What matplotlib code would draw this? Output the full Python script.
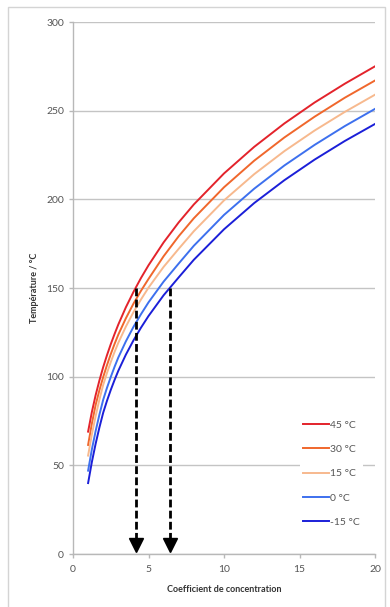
import matplotlib
matplotlib.use("Agg")
import matplotlib.pyplot as plt
from matplotlib.patches import Rectangle

plt.rcParams.update({"font.family": ["Lato", "DejaVu Sans"], "font.size": 7})

# values
coef = [1, 1.25, 1.5, 1.75, 2, 2.25, 2.5, 2.75, 3, 3.5, 4, 4.5, 5, 6, 7, 8,
        10, 12, 14, 16, 18, 20]
temp_45 = [69, 80.1, 89.6, 97.9, 105.4, 112.1, 118.3, 124.0, 129.4, 139.1, 147.7,
           155.6, 162.8, 175.7, 187.0, 197.1, 214.6, 229.6, 242.8, 254.6, 265.2, 275]
temp_30 = [61.5, 73.6, 84.1, 92.4, 99.8, 106.5, 112.7, 118.4, 123.7, 132.9, 141.1,
           148.4, 155.1, 167.9, 179.2, 189.3, 206.8, 221.8, 234.9, 246.6, 257.3, 267]
temp_15 = [55.5, 67.5, 77.8, 87.1, 95.4, 102.1, 108.2, 113.9, 119.1, 128.2, 136.3,
           143.5, 150.2, 161.9, 172.1, 182.0, 199.4, 214.2, 227.2, 238.8, 249.3, 259]
temp_0 = [47, 59, 69.4, 78.6, 87.0, 93.7, 99.8, 105.5, 110.8, 119.9, 128.0,
          135.2, 141.9, 153.6, 163.8, 173.8, 191.2, 206.0, 219.1, 230.7, 241.3, 251]
temp_m15 = [40, 51.9, 62.2, 71.4, 79.7, 86.4, 92.5, 98.1, 103.3, 112.4, 120.4,
            127.6, 134.2, 145.9, 156.0, 165.9, 183.1, 197.9, 210.8, 222.4, 232.9, 242.5]
labels = ["45 °C", "30 °C", "15 °C", "0 °C", "-15 °C"]
colors = ["#e3232b", "#f0672c", "#f7b98e", "#3d70ee", "#1b1fd8"]

arrow_x = [4.15, 6.4]
arrow_top = 150

fig = plt.figure(figsize=(3.9, 6.07), dpi=100)
fig.patches.append(Rectangle((8 / 390, -0.02), 377 / 390, 1 - 7 / 607 + 0.02,
                             transform=fig.transFigure, fill=False,
                             edgecolor="#d4d4d4", lw=1))
ax = fig.add_axes([73 / 390, 53 / 607, 302 / 390, 532 / 607])

for ys, lab, c in zip([temp_45, temp_30, temp_15, temp_0, temp_m15], labels, colors):
    ax.plot(coef, ys, color=c, lw=1.4, label=lab, zorder=3)

for xa in arrow_x:
    ax.plot([xa, xa], [arrow_top, 9], color="black", lw=2,
            linestyle=(0, (2.8, 1.2)), zorder=4)
    ax.plot([xa], [5], marker="v", ms=10, color="black", zorder=4)

ax.set_xlim(0, 20)
ax.set_ylim(0, 300)
ax.set_xticks(range(0, 21, 5))
ax.set_yticks(range(0, 301, 50))
ax.yaxis.grid(True, color="#c4c4c4", lw=1)
ax.set_axisbelow(True)
for s in ["top", "right"]:
    ax.spines[s].set_visible(False)
for s in ["left", "bottom"]:
    ax.spines[s].set_color("#b8b8b8")
    ax.spines[s].set_linewidth(1)
ax.tick_params(colors="#b8b8b8", labelcolor="#555555", length=3, width=1,
               labelsize=7.5)
ax.tick_params(axis="x", pad=5)

ax.set_xlabel("Coefficient de concentration", fontsize=6.5, fontweight="bold",
              color="#333333", labelpad=8)
ax.set_ylabel("Température / °C", fontsize=6.5, fontweight="bold",
              color="#333333", labelpad=5)

leg = ax.legend(loc="center left", bbox_to_anchor=(0.752, 0.151),
                borderaxespad=0, fontsize=7.5, frameon=True, fancybox=False,
                handlelength=2.5, handletextpad=0.1, labelspacing=1.45,
                borderpad=0.3)
leg.get_frame().set_facecolor("white")
leg.get_frame().set_edgecolor("none")
leg.get_frame().set_alpha(1)
for t in leg.get_texts():
    t.set_color("#555555")

fig.savefig("out.png", dpi=100)
